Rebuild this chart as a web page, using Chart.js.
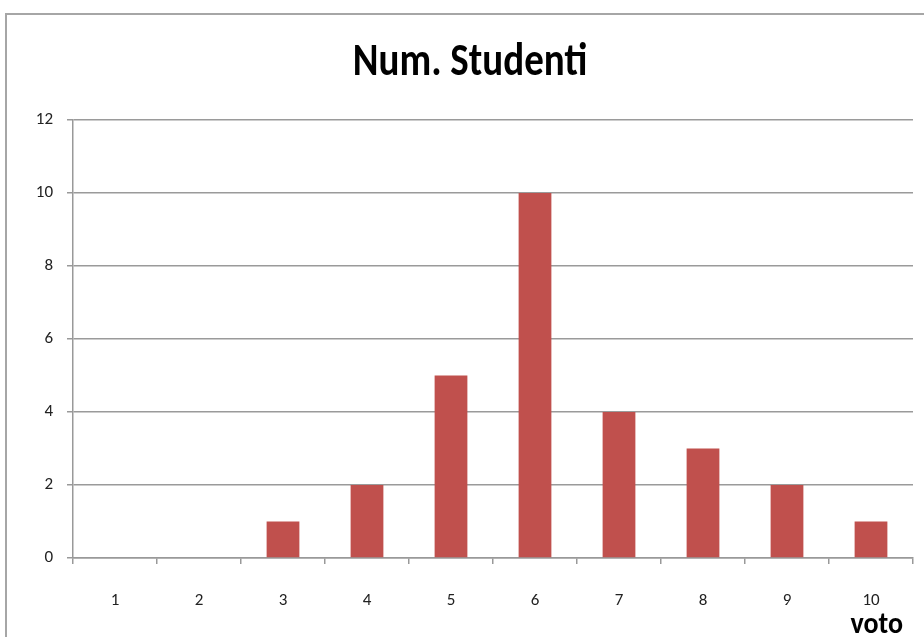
<!DOCTYPE html>
<html>
<head>
<meta charset="utf-8">
<script src="https://cdn.jsdelivr.net/npm/chart.js@4/dist/chart.umd.min.js"></script>
<style>
  html, body { margin: 0; padding: 0; background: #fff; }
  #wrap { position: relative; width: 924px; height: 637px; overflow: hidden; }
  #frame { position: absolute; left: 5px; top: 13px; width: 940px; height: 640px;
           border-left: 2px solid #a6a6a6; border-top: 2px solid #a6a6a6; }
  #chart { position: absolute; left: 0; top: 0; }
</style>
</head>
<body>
<div id="wrap">
  <div id="frame"></div>
  <canvas id="chart" width="924" height="637"></canvas>
</div>
<script>
// Voti (grades) and the number of students for each
const voti = ['1', '2', '3', '4', '5', '6', '7', '8', '9', '10'];
const numStudenti = [0, 0, 1, 2, 5, 10, 4, 3, 2, 1];
const yMin = 0, yMax = 12, yStep = 2;
const chartTitle = 'Num. Studenti';
const xCaption = 'voto';

const fontFamily = "Carlito, 'Liberation Sans Narrow', 'Liberation Sans', Arial, sans-serif";

// Draws the heading and the axis caption in a tall, condensed style
const captions = {
  id: 'captions',
  afterDraw(chart) {
    const ctx = chart.ctx;
    ctx.save();
    ctx.fillStyle = '#000';
    ctx.textAlign = 'center';
    ctx.textBaseline = 'alphabetic';
    ctx.font = "bold 39px " + fontFamily;
    ctx.translate(470, 75);
    ctx.scale(1, 1.2);
    ctx.fillText(chartTitle, 0, 0);
    ctx.restore();

    ctx.save();
    ctx.fillStyle = '#000';
    ctx.textAlign = 'right';
    ctx.textBaseline = 'alphabetic';
    ctx.font = "bold 28px " + fontFamily;
    ctx.translate(903, 633);
    ctx.scale(1, 1.1);
    ctx.fillText(xCaption, 0, 0);
    ctx.restore();
  }
};

new Chart(document.getElementById('chart'), {
  type: 'bar',
  data: {
    labels: voti,
    datasets: [{
      label: chartTitle,
      data: numStudenti,
      backgroundColor: '#c0504d',
      borderWidth: 0,
      barPercentage: 0.39,
      categoryPercentage: 1.0
    }]
  },
  plugins: [captions],
  options: {
    responsive: false,
    animation: false,
    layout: { padding: { left: 16, right: 11, top: 120, bottom: 0 } },
    plugins: {
      legend: { display: false },
      tooltip: { enabled: false },
      title: { display: false }
    },
    scales: {
      x: {
        offset: true,
        grid: {
          offset: true,
          drawOnChartArea: false,
          drawTicks: true,
          tickLength: 6,
          tickColor: '#999',
          lineWidth: 1.5
        },
        border: { display: true, color: '#999', width: 1.5 },
        ticks: {
          color: '#222',
          padding: 27,
          font: { family: fontFamily, size: 17 }
        },
        afterFit(scale) { scale.height = 79; }
      },
      y: {
        min: yMin,
        max: yMax,
        ticks: {
          stepSize: yStep,
          color: '#222',
          padding: 14,
          font: { family: fontFamily, size: 17 }
        },
        grid: {
          color: '#9a9a9a',
          lineWidth: 1.5,
          tickLength: 6,
          tickColor: '#999'
        },
        border: { display: true, color: '#999', width: 1.5 },
        afterFit(scale) { scale.width = 57; }
      }
    }
  }
});
</script>
</body>
</html>
